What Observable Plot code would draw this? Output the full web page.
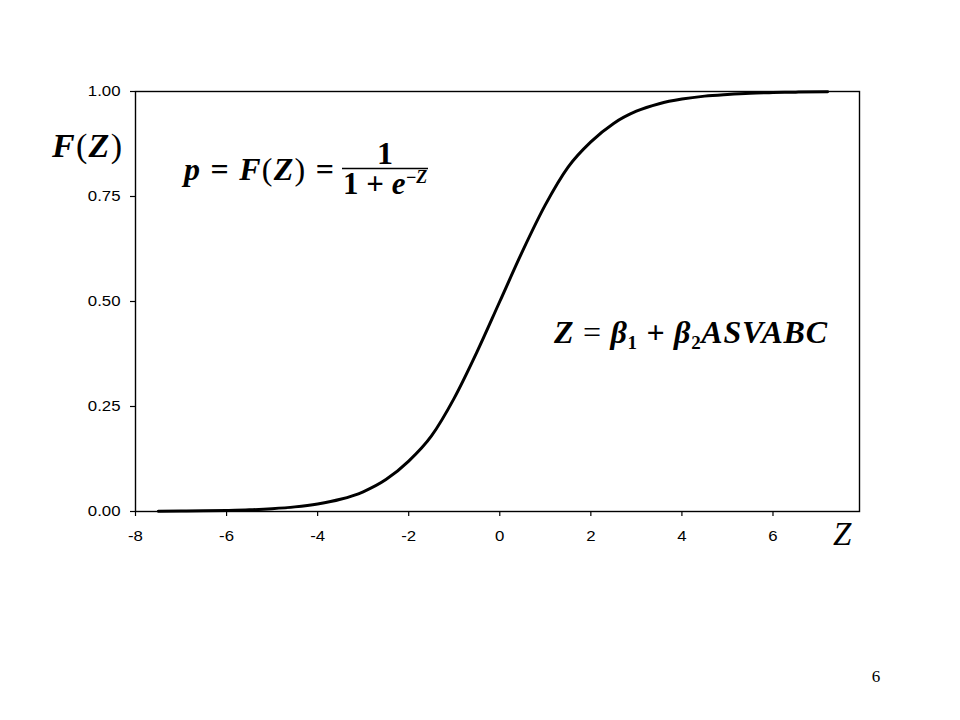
<!DOCTYPE html>
<html>
<head>
<meta charset="utf-8">
<script src="https://cdn.jsdelivr.net/npm/d3@7"></script>
<script src="https://cdn.jsdelivr.net/npm/@observablehq/plot@0.6"></script>
<style>
  html, body { margin: 0; padding: 0; background: #fff; }
  #chart { position: relative; width: 960px; height: 720px; }
</style>
</head>
<body>
<div id="chart"></div>
<script>
// Values
const zValues = [-7.5, -7, -6.5, -6, -5.5, -5, -4.5, -4, -3.5, -3, -2.5, -2, -1.5, -1, -0.5, 0, 0.5, 1, 1.5, 2, 2.5, 3, 3.5, 4, 4.5, 5, 5.5, 6, 6.5, 7.2];
const pValues = [0.0006, 0.001, 0.0015, 0.0025, 0.004, 0.0067, 0.011, 0.018, 0.029, 0.047, 0.076, 0.12, 0.18, 0.27, 0.38, 0.5, 0.62, 0.73, 0.82, 0.88, 0.924, 0.953, 0.971, 0.982, 0.989, 0.993, 0.996, 0.9975, 0.9985, 0.9993];
const xTicks = [-8, -6, -4, -2, 0, 2, 4, 6];
const yTicks = [0, 0.25, 0.5, 0.75, 1];

const data = zValues.map((z, i) => ({z, p: pValues[i]}));

const svg = Plot.plot({
  width: 960,
  height: 720,
  marginLeft: 135,
  marginRight: 101,
  marginTop: 91,
  marginBottom: 209,
  style: "font-family: 'Liberation Sans', Arial, sans-serif; font-size: 14px; color: #000; background: #fff;",
  x: {domain: [-8, 7.9], label: null},
  y: {domain: [0, 1], label: null},
  marks: [
    Plot.frame({stroke: "#000", strokeWidth: 1.4}),
    Plot.axisX({ticks: xTicks, tickFormat: d => String(d), tickSize: 5, tickPadding: 15, label: null, strokeWidth: 1.2}),
    Plot.axisY({ticks: yTicks, tickFormat: d3.format(".2f"), tickSize: 5, tickPadding: 10, label: null, strokeWidth: 1.2}),
    Plot.line(data, {x: "z", y: "p", stroke: "#000", strokeWidth: 3, curve: "monotone-x"})
  ]
});
document.getElementById("chart").appendChild(svg);

const s = d3.select(svg);
// tick labels: slightly wider glyphs, as in the (horizontally stretched) reference slide
const SX = 1.2;
s.selectAll("text").each(function() {
  const el = d3.select(this);
  const t = el.attr("transform") || "";
  const xa = el.attr("x");
  if (xa != null && !isNaN(+xa)) el.attr("x", +xa / SX);
  el.attr("transform", `${t} scale(${SX},1)`)
    .style("font-size", "14px").style("font-family", "'Liberation Sans', Arial, sans-serif");
});

const serif = "'Liberation Serif', 'Times New Roman', serif";
function T(x, y, size) {
  return s.append("text").style("text-anchor", "start").attr("text-anchor", "start")
    .attr("x", x).attr("y", y).attr("font-family", serif).style("font-size", size + "px").attr("fill", "#000");
}
function it(el, t) { el.append("tspan").attr("font-style", "italic").attr("font-weight", "bold").text(t); }
function rm(el, t, w) { el.append("tspan").attr("font-style", "normal").attr("font-weight", w || "normal").text(t); }

// Y label F(Z)
const fz = T(52, 157, 34).attr("textLength", 70).attr("lengthAdjust", "spacing");
it(fz, "F"); rm(fz, "("); it(fz, "Z"); rm(fz, ")");

// X label Z
T(833, 545, 33).attr("font-style", "italic").text("Z");

// Formula p = F(Z) = 1 / (1 + e^-Z)
const f1 = T(184, 180, 32).attr("textLength", 150).attr("lengthAdjust", "spacing");
it(f1, "p"); rm(f1, " = ", "bold"); it(f1, "F"); rm(f1, "("); it(f1, "Z"); rm(f1, ")"); rm(f1, " =", "bold");
T(385, 164, 32).style("text-anchor", "middle").attr("font-weight", "bold").text("1");
s.append("line").attr("x1", 342).attr("x2", 428).attr("y1", 168.5).attr("y2", 168.5)
  .attr("stroke", "#000").attr("stroke-width", 1.4);
const den = T(343, 194, 31).attr("font-weight", "bold");
den.append("tspan").text("1 + ");
den.append("tspan").attr("font-style", "italic").text("e");
den.append("tspan").attr("dy", -11).style("font-size", "18px").attr("font-style", "italic").text("\u2212Z");

// Formula Z = β1 + β2 ASVABC
const f2 = T(554, 343, 32).attr("font-weight", "bold").attr("textLength", 273).attr("lengthAdjust", "spacing");
it(f2, "Z"); rm(f2, " = ");
it(f2, "\u03B2");
f2.append("tspan").attr("dy", 6).style("font-size", "19px").text("1");
f2.append("tspan").attr("dy", -6).text(" + ");
it(f2, "\u03B2");
f2.append("tspan").attr("dy", 6).style("font-size", "19px").text("2");
f2.append("tspan").attr("dy", -6).attr("font-style", "italic").text("ASVABC");

// page number
T(876, 682, 17).style("text-anchor", "middle").text("6");
</script>
</body>
</html>
